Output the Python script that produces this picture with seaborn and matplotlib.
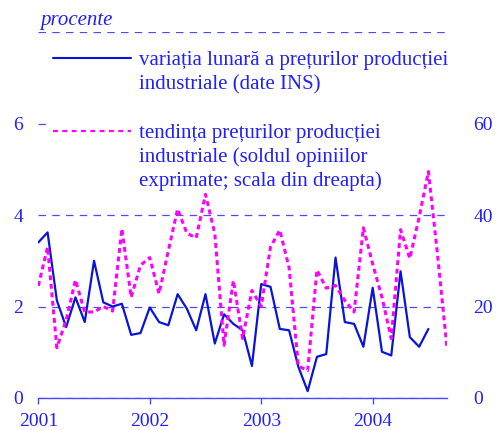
"""Monthly industrial producer price change vs. survey price trend (2001-2004)."""

import numpy as np
import pandas as pd
import matplotlib
matplotlib.use("Agg")
import matplotlib.pyplot as plt
from matplotlib.lines import Line2D
import seaborn as sns

# monthly index, 0 = Jan 2001
ppi_monthly = [3.40, 3.62, 2.13, 1.55, 2.20, 1.66, 3.00, 2.09, 2.00, 2.06,
               1.38, 1.42, 1.98, 1.66, 1.59, 2.27, 1.95, 1.48, 2.27, 1.19,
               1.83, 1.62, 1.48, 0.70, 2.49, 2.43, 1.51, 1.48, 0.68, 0.15,
               0.90, 0.96, 3.07, 1.66, 1.62, 1.12, 2.41, 1.01, 0.93, 2.77,
               1.33, 1.12, 1.51]
trend_balance = [24.5, 33.0, 11.0, 17.0, 25.8, 18.8, 18.8, 20.0, 19.0, 37.0,
                 22.0, 29.0, 30.7, 22.8, 32.2, 41.3, 36.0, 35.0, 44.5, 36.0,
                 11.5, 25.7, 13.0, 23.5, 20.0, 33.0, 36.7, 28.5, 7.0, 6.0,
                 28.0, 24.0, 24.6, 21.3, 18.8, 37.2, 29.3, 22.0, 13.0, 36.8,
                 30.5, 39.5, 49.5, 31.0, 11.0]
year_labels = ["2001", "2002", "2003", "2004"]
left_ticks = [0, 2, 4, 6, 8]
left_labels = ["0", "2", "4", "6", ""]
right_ticks = [0, 20, 40, 60, 80]
right_labels = ["0", "20", "40", "60", ""]

legend_lines = ["variația lunară a prețurilor producției",
                "industriale (date INS)",
                " ",
                "tendința prețurilor producției",
                "industriale (soldul opiniilor",
                "exprimate; scala din dreapta)"]

BLUE_LINE = "#0a14d8"
MAGENTA = "#ff00ff"
TEXT_BLUE = "#1f1fff"
GRID_BLUE = "#4a4aff"

df_ppi = pd.DataFrame({"month": np.arange(len(ppi_monthly)), "value": ppi_monthly})
df_trend = pd.DataFrame({"month": np.arange(len(trend_balance)), "value": trend_balance})

sns.set_theme(style="white")
plt.rcParams["font.family"] = ["Liberation Serif", "DejaVu Serif"]
plt.rcParams["font.size"] = 14


def main():
    fig = plt.figure(figsize=(4.96, 4.30), dpi=100)
    ax = fig.add_axes([38.3 / 496, 1 - 398 / 430, (447 - 38.3) / 496, (398 - 32) / 430])
    ax2 = ax.twinx()

    sns.lineplot(data=df_ppi, x="month", y="value", ax=ax, color=BLUE_LINE,
                 linewidth=1.6)
    sns.lineplot(data=df_trend, x="month", y="value", ax=ax2, color=MAGENTA,
                 linewidth=2.2, linestyle=(0, (1.6, 1.2)), zorder=10)

    ax.set_xlim(0, 44)
    ax.set_ylim(0, 8)
    ax2.set_ylim(0, 80)

    ax.set_yticks(left_ticks)
    ax.set_yticklabels(left_labels)
    ax2.set_yticks(right_ticks)
    ax2.set_yticklabels(right_labels)
    ax.set_xticks(np.arange(len(year_labels)) * 12)
    ax.set_xticklabels(year_labels)

    ax.yaxis.grid(True, color=GRID_BLUE, linestyle=(0, (6, 5)), linewidth=0.9)
    ax.xaxis.grid(False)
    ax2.grid(False)

    for a in (ax, ax2):
        a.set_xlabel("")
        a.set_ylabel("")
        for side in ("left", "right", "top", "bottom"):
            a.spines[side].set_visible(False)
    ax.spines["bottom"].set_visible(True)
    ax.spines["bottom"].set_color(GRID_BLUE)
    ax.spines["bottom"].set_linewidth(1.0)

    ax.tick_params(axis="y", length=0, pad=11, labelcolor=TEXT_BLUE, labelsize=14)
    ax2.tick_params(axis="y", length=0, pad=19, labelcolor=TEXT_BLUE, labelsize=14)
    ax.tick_params(axis="x", length=4.5, width=1.0, color=GRID_BLUE, direction="out",
                   pad=6, labelcolor=TEXT_BLUE, labelsize=14, bottom=True)

    handles = [Line2D([], [], color=BLUE_LINE, linewidth=1.5),
               Line2D([], [], color="none"),
               Line2D([], [], color="none"),
               Line2D([], [], color=MAGENTA, linewidth=1.6, linestyle=(0, (2.2, 2.0))),
               Line2D([], [], color="none"),
               Line2D([], [], color="none")]
    leg = ax2.legend(handles, legend_lines, loc="upper left",
                     bbox_to_anchor=(46.75 / 496, 1 - 44.5 / 430),
                     bbox_transform=fig.transFigure, borderaxespad=0,
                     borderpad=0.3, handlelength=3.75, handletextpad=0.38,
                     labelspacing=0.22, frameon=True, fancybox=False,
                     fontsize=15)
    leg.get_frame().set_facecolor("white")
    leg.get_frame().set_edgecolor("none")
    leg.get_frame().set_alpha(1.0)
    leg.set_zorder(5)
    for t in leg.get_texts():
        t.set_color(TEXT_BLUE)

    fig.text(40 / 496, 1 - 24.5 / 430, "procente", fontsize=15, style="italic",
             color=TEXT_BLUE, va="baseline", ha="left")

    fig.savefig("out.png", dpi=100, facecolor="white")
    plt.close(fig)


if __name__ == "__main__":
    main()
